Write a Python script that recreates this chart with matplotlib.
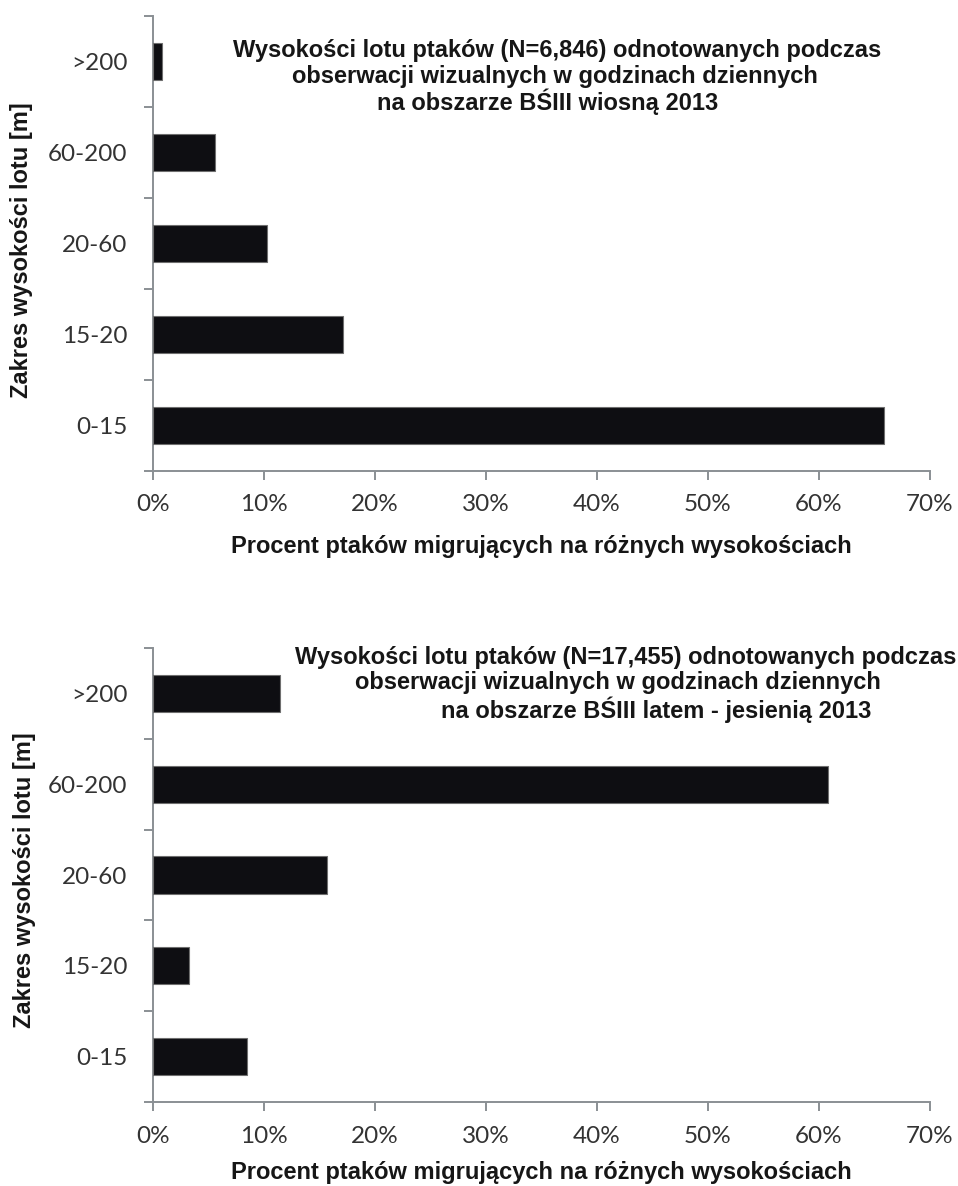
import matplotlib
matplotlib.use("Agg")
import matplotlib.pyplot as plt
from matplotlib.ticker import FixedLocator, FuncFormatter

# Flight-altitude classes (bottom to top) and share of birds in each
categories = ["0-15", "15-20", "20-60", "60-200", ">200"]
spring_pct = [65.9, 17.1, 10.3, 5.6, 0.8]
autumn_pct = [8.5, 3.2, 15.7, 60.8, 11.4]
x_ticks = [0, 10, 20, 30, 40, 50, 60, 70]

spring_title = [
    "Wysokości lotu ptaków (N=6,846) odnotowanych podczas",
    "obserwacji wizualnych w godzinach dziennych",
    "na obszarze BŚIII wiosną 2013",
]
autumn_title = [
    "Wysokości lotu ptaków (N=17,455) odnotowanych podczas",
    "obserwacji wizualnych w godzinach dziennych",
    "na obszarze BŚIII latem - jesienią 2013",
]
x_label = "Procent ptaków migrujących na różnych wysokościach"
y_label = "Zakres wysokości lotu [m]"

W, H = 958, 1186
fig = plt.figure(figsize=(W / 100, H / 100), dpi=100)
fig.patch.set_facecolor("white")

axis_grey = "#8a8f94"
tick_font = "Lato"
bold_font = "Liberation Sans"


def px(x, y):
    return x / W, 1 - y / H


def draw_panel(rect, values):
    ax = fig.add_axes(rect)
    pos = list(range(len(categories)))
    ax.barh(pos, values, height=0.41, color="#0e0e12",
            edgecolor="#6e6e6e", linewidth=0.8, zorder=3)
    ax.set_xlim(0, 70)
    ax.set_ylim(-0.5, len(categories) - 0.5)
    ax.xaxis.set_major_locator(FixedLocator(x_ticks))
    ax.xaxis.set_major_formatter(FuncFormatter(lambda v, p: f"{v:.0f}%"))
    ax.set_yticks(pos)
    ax.set_yticklabels(categories)
    ax.yaxis.set_minor_locator(FixedLocator([p + 0.5 for p in range(-1, len(categories))]))
    for s in ("top", "right"):
        ax.spines[s].set_visible(False)
    for s in ("left", "bottom"):
        ax.spines[s].set_color(axis_grey)
        ax.spines[s].set_linewidth(1.4)
    ax.tick_params(axis="y", which="major", length=0, pad=18.5)
    ax.tick_params(axis="y", which="minor", length=6.5, width=1.4,
                   color=axis_grey, direction="out")
    ax.tick_params(axis="x", which="major", length=6.5, width=1.4,
                   color=axis_grey, direction="out", pad=10.5)
    for lab in ax.get_xticklabels() + ax.get_yticklabels():
        lab.set_fontfamily(tick_font)
        lab.set_fontsize(17.5)
        lab.set_color("#333333")
    return ax


# Spring panel
draw_panel([153 / W, 1 - 470.7 / H, 777 / W, 454.7 / H], spring_pct)
# Summer-autumn panel
draw_panel([153 / W, 1 - 1102 / H, 777 / W, 454 / H], autumn_pct)

title_kw = dict(fontfamily=bold_font, fontweight="bold", fontsize=17,
                color="#161616", ha="center", va="center")

for (cx, cy), line in zip([(557, 50), (555, 77), (548, 102)], spring_title):
    fig.text(*px(cx, cy), line, **title_kw)
for (cx, cy), line in zip([(626, 657), (618, 683), (656, 710)], autumn_title):
    fig.text(*px(cx, cy), line, **title_kw)

fig.text(*px(541, 547), x_label, **title_kw)
fig.text(*px(541, 1172), x_label, **title_kw)
fig.text(*px(22, 250), y_label, rotation=90, **title_kw)
fig.text(*px(25, 880), y_label, rotation=90, **title_kw)

fig.savefig("out.png", dpi=100, facecolor="white")
